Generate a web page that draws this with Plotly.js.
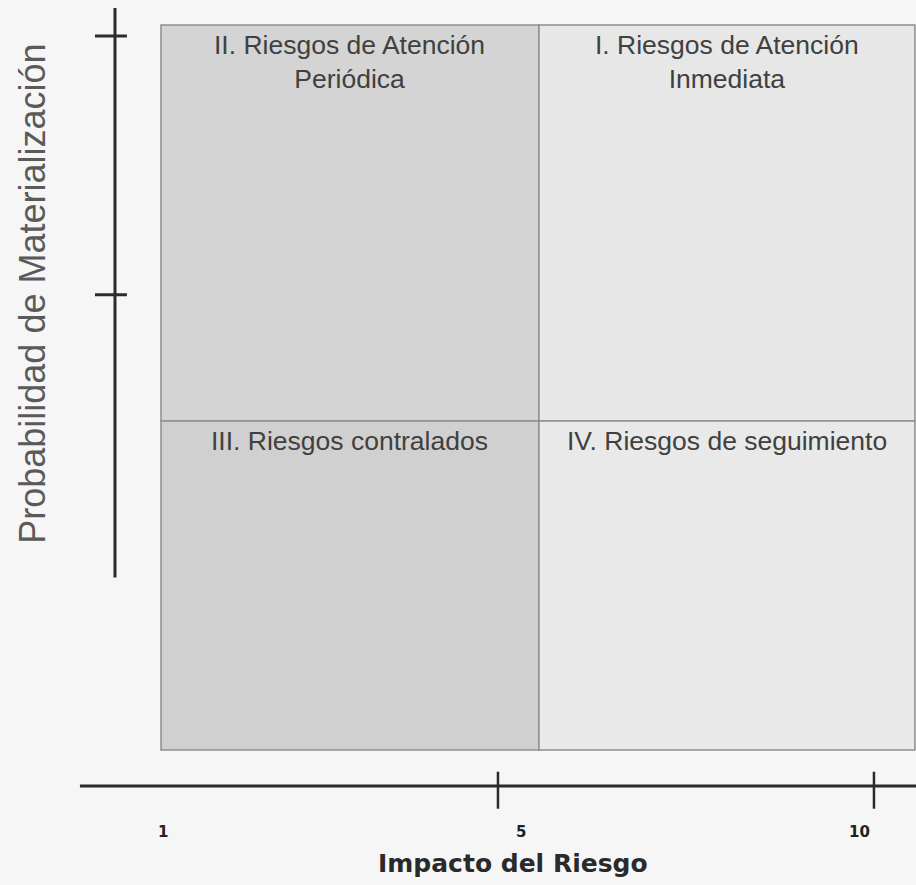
<!DOCTYPE html>
<html>
<head>
<meta charset="utf-8">
<script src="https://cdn.plot.ly/plotly-3.0.1.min.js"></script>
<style>html,body{margin:0;padding:0;background:#f6f6f6;}</style>
</head>
<body>
<div id="chart" style="width:916px;height:885px;"></div>
<script>
// ---- content ----
const quadrantLabels = [
  "II. Riesgos de Atención<br>Periódica",
  "I. Riesgos de Atención<br>Inmediata",
  "III. Riesgos contralados",
  "IV. Riesgos de seguimiento"
];
const quadrantColumn = [0, 1, 0, 1];   // 0 = left (low impact), 1 = right (high impact)
const quadrantRow    = [1, 1, 0, 0];   // 0 = bottom (low prob.), 1 = top (high prob.)
const impactTickLabels = ["1", "5", "10"];
const impactTickMarks = [5, 10];
const probabilityTickMarks = [6.28, 9.85];
const xTitle = "Impacto del Riesgo";
const yTitle = "Probabilidad de Materialización";

// ---- geometry (layout, not data) ----
const G = {
  xRange: [-1.622, 10.559],
  yRange: [-1.862, 10.345],
  colEdges: [0.519, 5.545, 10.545],
  rowEdges: [0, 4.538, 10],
  xAxisY: -0.497, xAxisFrom: -0.559, xAxisTo: 10.6,
  xTickUp: -0.30, xTickDown: -0.81,
  yAxisX: -0.093, yAxisFrom: 2.38, yAxisTo: 10.234,
  yTickLeft: -0.359, yTickRight: 0.066,
  tickLabelX: [0.55, 5.3, 9.81], tickLabelY: -1.131
};
const S = {
  fills: ["#d4d4d4", "#e7e7e7", "#d0d0d0", "#e9e9e9"],
  cellLine: "#8e8e8e",
  axisColor: "#2b2b2b",
  textColor: "#404040"
};

const shapes = [];
const annotations = [];

quadrantLabels.forEach((lab, i) => {
  const c = quadrantColumn[i], r = quadrantRow[i];
  const x0 = G.colEdges[c], x1 = G.colEdges[c + 1];
  const y0 = G.rowEdges[r], y1 = G.rowEdges[r + 1];
  shapes.push({type: "rect", xref: "x", yref: "y", x0, x1, y0, y1,
    fillcolor: S.fills[i], line: {color: S.cellLine, width: 1.5}, layer: "below"});
  annotations.push({xref: "x", yref: "y", x: (x0 + x1) / 2, y: y1, xanchor: "center", yanchor: "top",
    yshift: -3, text: lab, showarrow: false,
    font: {family: "Liberation Sans, Arial, sans-serif", size: 26.5, color: S.textColor}});
});

// axes drawn as lines
shapes.push({type: "line", xref: "x", yref: "y", x0: G.xAxisFrom, x1: G.xAxisTo, y0: G.xAxisY, y1: G.xAxisY,
  line: {color: S.axisColor, width: 3}});
shapes.push({type: "line", xref: "x", yref: "y", x0: G.yAxisX, x1: G.yAxisX, y0: G.yAxisFrom, y1: G.yAxisTo,
  line: {color: S.axisColor, width: 3}});
impactTickMarks.forEach(v => shapes.push({type: "line", xref: "x", yref: "y", x0: v, x1: v,
  y0: G.xTickDown, y1: G.xTickUp, line: {color: S.axisColor, width: 2.5}}));
probabilityTickMarks.forEach(v => shapes.push({type: "line", xref: "x", yref: "y",
  x0: G.yTickLeft, x1: G.yTickRight, y0: v, y1: v, line: {color: S.axisColor, width: 3}}));

impactTickLabels.forEach((t, i) => annotations.push({xref: "x", yref: "y", x: G.tickLabelX[i], y: G.tickLabelY,
  text: "<b>" + t + "</b>", showarrow: false, xanchor: "center", yanchor: "middle",
  font: {family: "DejaVu Sans, sans-serif", size: 15, color: "#222"}}));

annotations.push({xref: "x", yref: "y", x: 5.2, y: -1.57, text: "<b>" + xTitle + "</b>", showarrow: false,
  xanchor: "center", yanchor: "middle", font: {family: "DejaVu Sans, sans-serif", size: 25, color: "#2a2a2a"}});
annotations.push({xref: "x", yref: "y", x: -1.19, y: 6.3, text: yTitle, showarrow: false, textangle: -90,
  xanchor: "center", yanchor: "middle", font: {family: "Liberation Sans, Arial, sans-serif", size: 36, color: "#5a5a5a"}});

const traces = [{type: "scatter", mode: "markers", x: [], y: [], hoverinfo: "skip", showlegend: false}];

const layout = {
  width: 916, height: 885,
  margin: {l: 0, r: 0, t: 0, b: 0},
  paper_bgcolor: "#f6f6f6", plot_bgcolor: "#f6f6f6",
  showlegend: false,
  xaxis: {range: G.xRange, visible: false, fixedrange: true},
  yaxis: {range: G.yRange, visible: false, fixedrange: true},
  shapes, annotations
};
Plotly.newPlot("chart", traces, layout, {displayModeBar: false, staticPlot: true});
</script>
</body>
</html>
